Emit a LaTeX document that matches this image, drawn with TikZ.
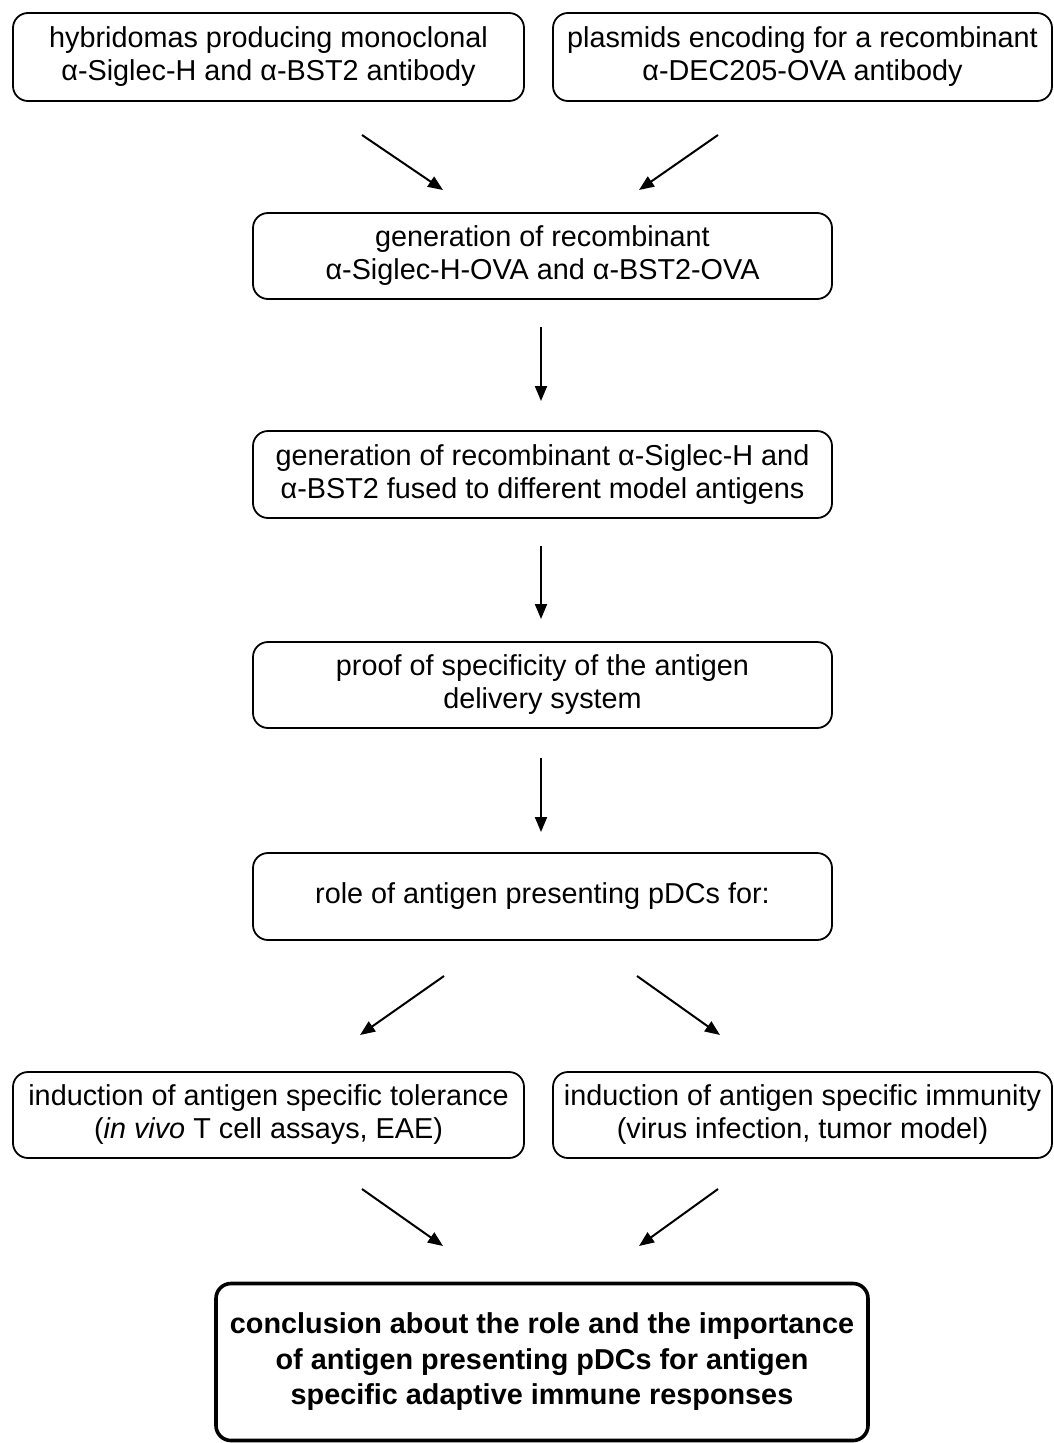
\documentclass[tikz,border=0pt]{standalone}
\usepackage{fontspec}
\setmainfont{Liberation Sans}
\usetikzlibrary{arrows.meta}
\usetikzlibrary{positioning}

\begin{document}
\begin{tikzpicture}[x=1pt, y=-1pt, >={Triangle[length=15pt,width=12pt]},
  box/.style={draw, line width=1.8pt, rounded corners=15pt, align=center,
    font=\fontsize{28.8}{33}\selectfont, inner sep=0pt},
  finalbox/.style={box, line width=3.6pt, font=\fontsize{28.8}{35.5}\selectfont\bfseries},
  flow/.style={->, line width=2pt}]
  \useasboundingbox (0,0) rectangle (1054,1443);

  % ===== Starting material =====
  \node[box, minimum width=511pt, minimum height=88pt] (hybrid) at (268.5,57)
    {hybridomas producing monoclonal\\α-Siglec-H and α-BST2 antibody};
  \node[box, minimum width=499pt, minimum height=88pt] (plasmid) at (802.5,57)
    {plasmids encoding for a recombinant\\α-DEC205-OVA antibody};

  % ===== Main steps =====
  \node[box, minimum width=579pt, minimum height=86pt] (genova) at (542.5,256)
    {generation of recombinant\\α-Siglec-H-OVA and α-BST2-OVA};
  \node[box, minimum width=579pt, minimum height=87pt] (genmodel) at (542.5,474.5)
    {generation of recombinant α-Siglec-H and\\α-BST2 fused to different model antigens};
  \node[box, minimum width=579pt, minimum height=86pt] (proof) at (542.5,685)
    {proof of specificity of the antigen\\delivery system};
  \node[box, minimum width=579pt, minimum height=87pt] (role) at (542.5,896.5)
    {role of antigen presenting pDCs for:};

  % ===== Two branches =====
  \node[box, minimum width=511pt, minimum height=86pt] (toler) at (268.5,1115)
    {induction of antigen specific tolerance\\(\textit{in vivo} T cell assays, EAE)};
  \node[box, minimum width=499pt, minimum height=86pt] (immun) at (802.5,1115)
    {induction of antigen specific immunity\\(virus infection, tumor model)};

  % Conclusion
  \node[finalbox, minimum width=652pt, minimum height=157pt] (concl) at (542,1362)
    {conclusion about the role and the importance\\of antigen presenting pDCs for antigen\\specific adaptive immune responses};

  % Arrow ends (arrows float between the boxes)
  \coordinate (hybridA) at (362,135);   \coordinate (genovaA) at (443,190);
  \coordinate (plasmidA) at (718,135);  \coordinate (genovaB) at (639,190);
  \coordinate (genovaC) at (541,327);   \coordinate (genmodelA) at (541,401);
  \coordinate (genmodelB) at (541,546); \coordinate (proofA) at (541,619);
  \coordinate (proofB) at (541,758);    \coordinate (roleA) at (541,832);
  \coordinate (roleB) at (444,976);     \coordinate (tolerA) at (360,1035);
  \coordinate (roleC) at (637,976);     \coordinate (immunA) at (720,1035);
  \coordinate (tolerB) at (362,1189);   \coordinate (conclA) at (443,1246);
  \coordinate (immunB) at (718,1189);   \coordinate (conclB) at (639,1246);

  % Arrows
  \draw[flow] (hybridA) -- (genovaA);
  \draw[flow] (plasmidA) -- (genovaB);
  \draw[flow] (genovaC) -- (genmodelA);
  \draw[flow] (genmodelB) -- (proofA);
  \draw[flow] (proofB) -- (roleA);
  \draw[flow] (roleB) -- (tolerA);
  \draw[flow] (roleC) -- (immunA);
  \draw[flow] (tolerB) -- (conclA);
  \draw[flow] (immunB) -- (conclB);
\end{tikzpicture}
\end{document}
